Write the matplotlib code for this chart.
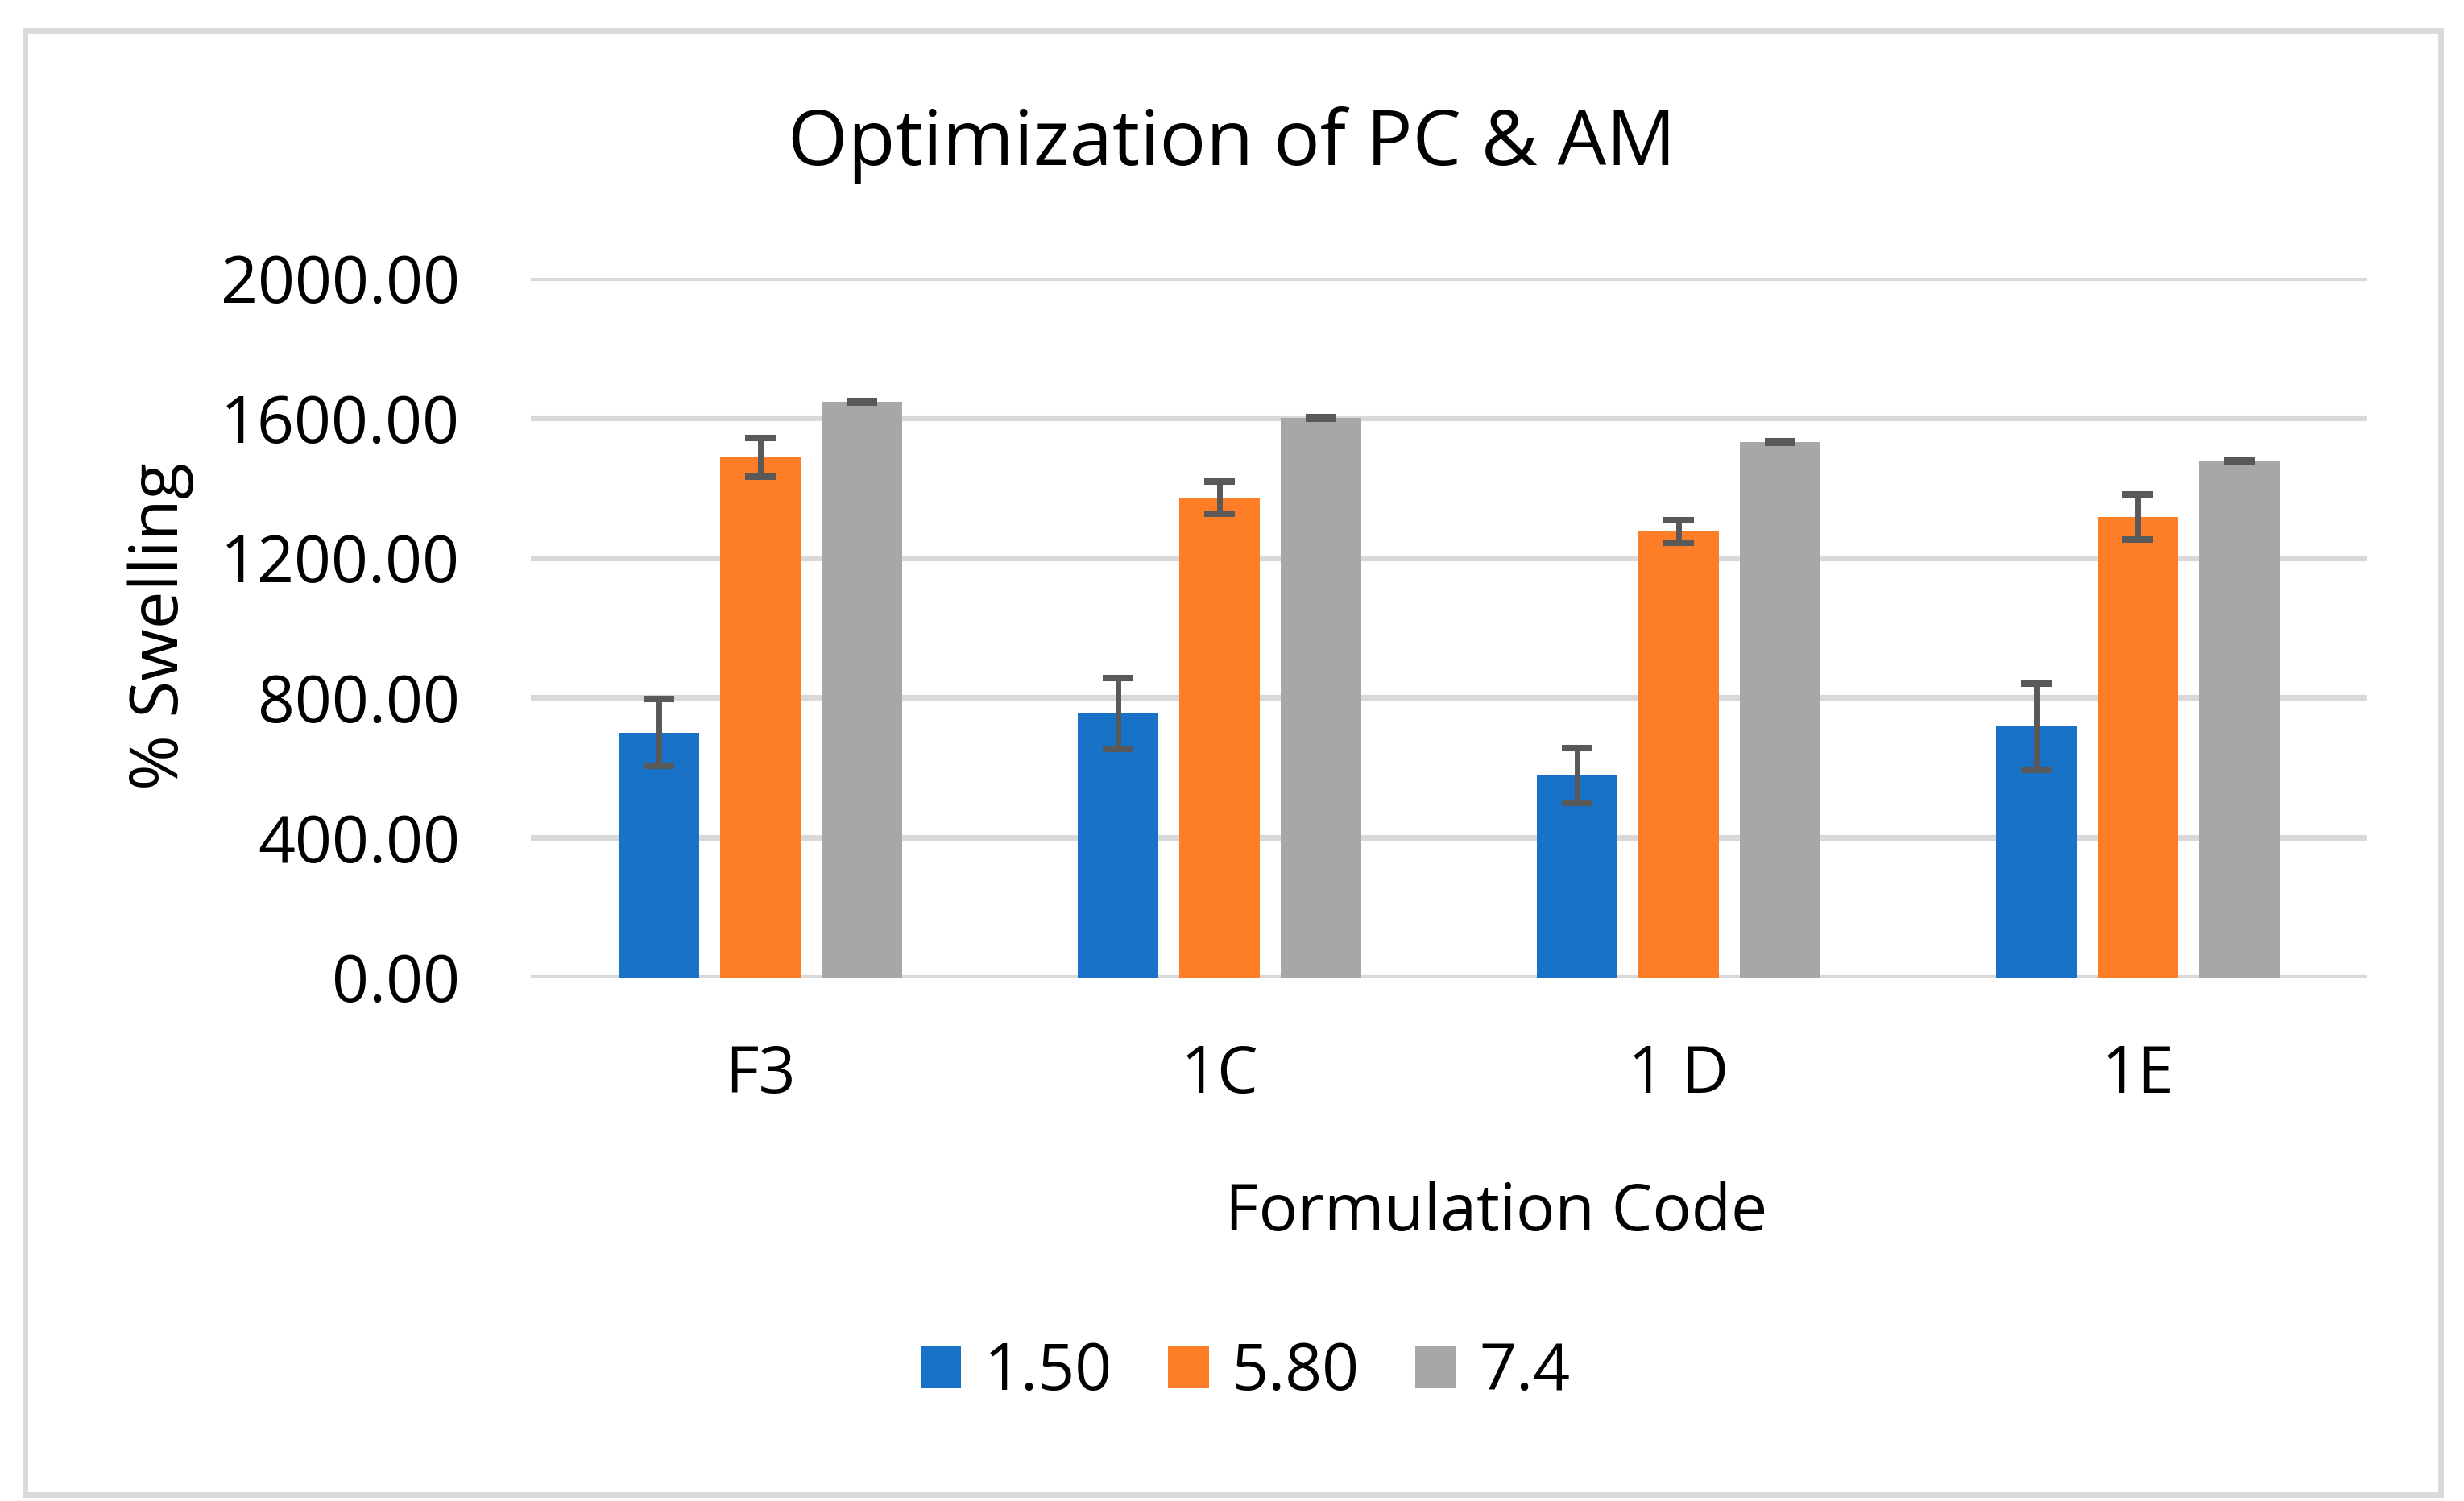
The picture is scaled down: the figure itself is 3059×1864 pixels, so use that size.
import matplotlib
matplotlib.use("Agg")
import matplotlib.pyplot as plt
from matplotlib.patches import Rectangle
import numpy as np

plt.rcParams['font.family'] = ['Open Sans', 'DejaVu Sans']

# data
categories = ['F3', '1C', '1 D', '1E']
series_names = ['1.50', '5.80', '7.4']
ph_150 = [700, 755, 577, 717]
ph_150_err = [95, 101, 78, 123]
ph_580 = [1487, 1372, 1275, 1317]
ph_580_err = [55, 47, 33, 65]
ph_74 = [1646, 1600, 1531, 1478]
ph_74_err = [3, 3, 3, 3]
yticks = [0, 400, 800, 1200, 1600, 2000]

colors = ['#1873C8', '#FE7E27', '#A7A7A7']
grid_col = '#D9D9D9'
err_col = '#595959'

W, H, DPI = 3059, 1864, 200
fig = plt.figure(figsize=(W / DPI, H / DPI), dpi=DPI)
ax_top, ax_bot = 345.3, 1213.5
ax = fig.add_axes([659 / W, 1 - ax_bot / H, (2939 - 659) / W, (ax_bot - ax_top) / H])

x = np.arange(len(categories))
width = 0.1754
step = 0.221
values = [ph_150, ph_580, ph_74]
errors = [ph_150_err, ph_580_err, ph_74_err]
for i, (vals, errs) in enumerate(zip(values, errors)):
    pos = x + (i - 1) * step
    ax.bar(pos, vals, width, color=colors[i], label=series_names[i], zorder=2)
    ax.errorbar(pos, vals, yerr=errs, fmt='none', ecolor=err_col,
                elinewidth=2.5, capsize=6.8, capthick=2.9, zorder=3)

ax.set_xlim(-0.5, len(categories) - 0.5)
ax.set_ylim(0, 2000)
ax.set_yticks(yticks)
ax.set_yticklabels([f'{v:.2f}' for v in yticks])
ax.set_xticks(x)
ax.set_xticklabels(categories)
ax.tick_params(axis='both', length=0, labelsize=29, colors='black')
ax.tick_params(axis='y', pad=31.7)
ax.tick_params(axis='x', pad=29.5)
ax.yaxis.grid(True, color=grid_col, linewidth=2.6, zorder=0)
ax.set_axisbelow(True)
for s in ax.spines.values():
    s.set_visible(False)

fig.text(1529.5 / W, 1 - 205 / H, 'Optimization of PC & AM', ha='center',
         va='baseline', fontsize=34.5)
fig.text(200 / W, 1 - 778 / H, '% Swelling', rotation=90, ha='center',
         va='center', fontsize=30)
fig.text(1858 / W, 1 - 1528 / H, 'Formulation Code', ha='center',
         va='baseline', fontsize=29)

fig.legend(loc='center', bbox_to_anchor=(1546 / W, 1 - 1705 / H), ncol=3,
           frameon=False, fontsize=29, handlelength=0.63, handleheight=0.63,
           handletextpad=0.35, columnspacing=0.86)

fig.patches.append(Rectangle((31 / W, 1 - 1856 / H), (3030 - 31) / W,
                             (1856 - 37.5) / H, transform=fig.transFigure,
                             fill=False, edgecolor=grid_col, linewidth=2.5))

fig.savefig('out.png', dpi=DPI, facecolor='white')
